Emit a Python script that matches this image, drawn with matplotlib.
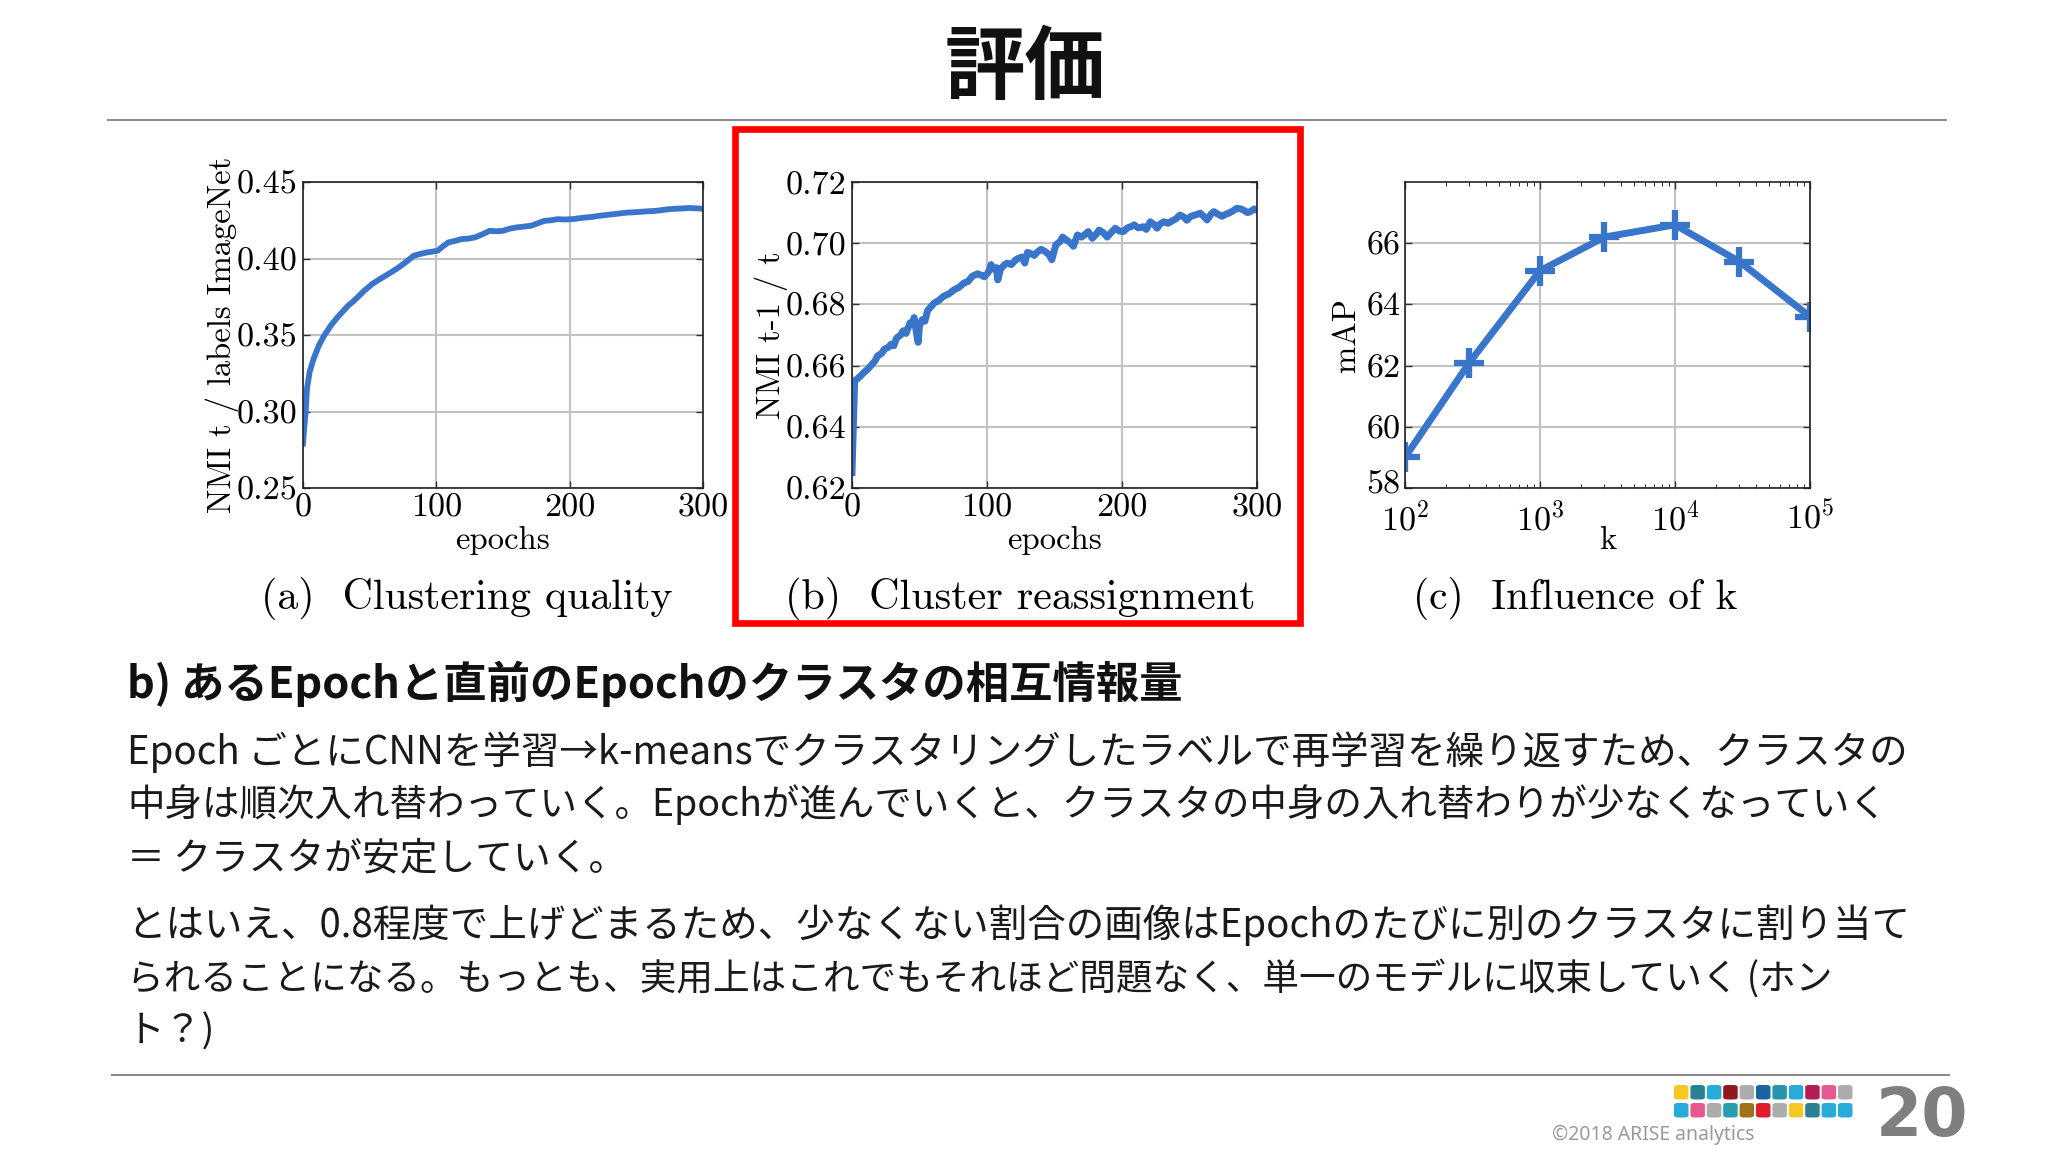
import matplotlib
matplotlib.use("Agg")
import matplotlib.pyplot as plt
from matplotlib.patches import Rectangle, FancyBboxPatch
from matplotlib.lines import Line2D
from matplotlib.ticker import LogLocator, NullFormatter
from matplotlib.transforms import ScaledTranslation

# ---------------- data ----------------
a_epochs = [0, 1, 2, 3, 5, 8, 12, 16, 21, 26, 30, 34, 38, 41, 46, 52, 57, 62, 67, 72,
            78, 83, 88, 93, 97, 101, 105, 109, 114, 119, 124, 129, 135, 140, 145, 150,
            155, 160, 165, 171, 176, 181, 186, 191, 196, 202, 207, 212, 217, 222, 228,
            233, 238, 243, 248, 253, 258, 264, 269, 274, 279, 284, 290, 297, 300]
a_nmi = [0.279, 0.290, 0.300, 0.315, 0.3259, 0.3346, 0.3433, 0.3498, 0.3563, 0.3617,
         0.3655, 0.3693, 0.3722, 0.3747, 0.3790, 0.3834, 0.3862, 0.3888, 0.3915, 0.3943,
         0.3982, 0.4018, 0.4030, 0.4040, 0.4045, 0.4051, 0.4080, 0.4105, 0.4115, 0.4127,
         0.4130, 0.4138, 0.4160, 0.4181, 0.4178, 0.4181, 0.4195, 0.4203, 0.4208, 0.4214,
         0.4230, 0.4246, 0.4250, 0.4257, 0.4255, 0.4257, 0.4263, 0.4268, 0.4272, 0.4279,
         0.4285, 0.4290, 0.4295, 0.4300, 0.4302, 0.4305, 0.4308, 0.4311, 0.4316, 0.4322,
         0.4325, 0.4327, 0.4330, 0.4327, 0.4325]

b_epochs = [0, 1, 2, 4, 6, 9, 12, 14, 17, 19, 22, 24, 27, 29, 31, 33, 36, 38, 40, 43,
            45, 46, 48, 49, 50, 52, 54, 56, 58, 61, 64, 68, 72, 76, 79, 83, 86, 89, 93,
            96, 98, 101, 103, 105, 107, 108, 110, 113, 115, 118, 121, 123, 126, 128, 130,
            133, 135, 137, 140, 143, 146, 148, 151, 154, 156, 159, 162, 164, 167, 170,
            173, 175, 178, 181, 183, 186, 189, 192, 195, 198, 201, 204, 207, 209, 212,
            216, 218, 221, 224, 226, 228, 231, 234, 236, 240, 243, 246, 248, 251, 254,
            258, 260, 263, 266, 268, 271, 274, 277, 279, 282, 285, 288, 290, 293, 295,
            298, 300]
b_nmi = [0.625, 0.640, 0.655, 0.6557, 0.6565, 0.6578, 0.6590, 0.6600, 0.6615, 0.6632,
         0.6640, 0.6654, 0.6660, 0.6670, 0.6665, 0.6690, 0.6700, 0.6714, 0.6705, 0.6740,
         0.6735, 0.6757, 0.6700, 0.6676, 0.6730, 0.6750, 0.6745, 0.6780, 0.6790, 0.6805,
         0.6812, 0.6827, 0.6835, 0.6849, 0.6855, 0.6870, 0.6875, 0.6892, 0.6900, 0.6895,
         0.6890, 0.6905, 0.6930, 0.6915, 0.6920, 0.6880, 0.6915, 0.6930, 0.6935, 0.6930,
         0.6945, 0.6950, 0.6955, 0.6935, 0.6970, 0.6965, 0.6960, 0.6970, 0.6980, 0.6973,
         0.6962, 0.6946, 0.6995, 0.7005, 0.7020, 0.7010, 0.7000, 0.6990, 0.7027, 0.7020,
         0.7030, 0.7038, 0.7016, 0.7030, 0.7043, 0.7035, 0.7020, 0.7035, 0.7049, 0.7040,
         0.7038, 0.7050, 0.7055, 0.7060, 0.7050, 0.7054, 0.7045, 0.7070, 0.7060, 0.7049,
         0.7062, 0.7070, 0.7065, 0.7070, 0.7080, 0.7092, 0.7085, 0.7075, 0.7088, 0.7092,
         0.7098, 0.7090, 0.7076, 0.7095, 0.7103, 0.7095, 0.7088, 0.7095, 0.7098, 0.7105,
         0.7114, 0.7112, 0.7108, 0.7100, 0.7103, 0.7112, 0.7108]

c_k = [100, 300, 1000, 3000, 10000, 30000, 100000]
c_map = [59.0, 62.1, 65.1, 66.2, 66.6, 65.4, 63.6]

a_yticks = [0.25, 0.30, 0.35, 0.40, 0.45]
b_yticks = [0.62, 0.64, 0.66, 0.68, 0.70, 0.72]
c_yticks = [58, 60, 62, 64, 66]
c_xticks = [100, 1000, 10000, 100000]
c_xticklabels = [r"$10^{2}$", r"$10^{3}$", r"$10^{4}$", r"$10^{5}$"]
epoch_ticks = [0, 100, 200, 300]

title_text = "評価"
heading_text = "b) あるEpochと直前のEpochのクラスタの相互情報量"
body_lines = [
    "Epoch ごとにCNNを学習→k-meansでクラスタリングしたラベルで再学習を繰り返すため、クラスタの",
    "中身は順次入れ替わっていく。Epochが進んでいくと、クラスタの中身の入れ替わりが少なくなっていく",
    "＝ クラスタが安定していく。",
    "とはいえ、0.8程度で上げどまるため、少なくない割合の画像はEpochのたびに別のクラスタに割り当て",
    "られることになる。もっとも、実用上はこれでもそれほど問題なく、単一のモデルに収束していく (ホン",
    "ト？)",
]
captions = ["(a)  Clustering quality", "(b)  Cluster reassignment", "(c)  Influence of k"]
logo_row1 = ["#f5c518", "#1f7a8c", "#1ba8d8", "#8b0a14", "#a8a8a8", "#0b5e9c",
             "#1b8fa8", "#1ba8d8", "#b0124a", "#e84e8a", "#a8a8a8"]
logo_row2 = ["#1ba8d8", "#e84e8a", "#a8a8a8", "#1b9aaa", "#9a6a10", "#e01020",
             "#a8a8a8", "#f5c518", "#1f7a8c", "#1ba8d8", "#1ba8d8"]

# ---------------- style ----------------
plt.rcParams['mathtext.fontset'] = 'cm'
plt.rcParams['axes.formatter.use_mathtext'] = True
plt.rcParams['axes.unicode_minus'] = False
SERIF = 'cmr10'
JP = ['Noto Sans CJK JP', 'DejaVu Sans']
LINE = '#3a75cc'
W, H = 2048, 1152
TS = 24.5   # tick label size
LS = 23.5   # axis label size

fig = plt.figure(figsize=(20.48, 11.52), dpi=100, facecolor='white')


def fx(px):
    return px / W


def fy(py):
    return 1 - py / H


def make_ax(l, r, t, b):
    ax = fig.add_axes([fx(l), fy(b), fx(r - l), (b - t) / H])
    ax.grid(True, color='#c2c2c2', lw=1.5)
    ax.set_axisbelow(True)
    for s in ax.spines.values():
        s.set_color('#222222')
        s.set_linewidth(1.2)
    ax.tick_params(direction='in', top=True, right=True, length=5, width=1,
                   labelsize=TS, pad=4, color='#333333')
    return ax


# (a)
axa = make_ax(303, 703, 182, 488)
axa.plot(a_epochs, a_nmi, color=LINE, lw=4.2, solid_joinstyle='round')
axa.set_xlim(0, 300)
axa.set_ylim(0.25, 0.45)
axa.set_xticks(epoch_ticks)
axa.set_yticks(a_yticks)
axa.set_yticklabels([f"{v:.2f}" for v in a_yticks], family=SERIF, fontsize=TS)
axa.set_xticklabels([str(v) for v in epoch_ticks], family=SERIF, fontsize=TS)
axa.set_xlabel("epochs", family=SERIF, fontsize=LS)
axa.set_ylabel("NMI t / labels ImageNet", family=SERIF, fontsize=LS)
axa.xaxis.set_label_coords(0.5, -0.125)
axa.yaxis.set_label_coords(-0.16, 0.5)

# (b)
axb = make_ax(852, 1257, 182, 488)
axb.plot(b_epochs, b_nmi, color=LINE, lw=5, solid_joinstyle='round')
axb.set_xlim(0, 300)
axb.set_ylim(0.62, 0.72)
axb.set_xticks(epoch_ticks)
axb.set_yticks(b_yticks)
axb.set_yticklabels([f"{v:.2f}" for v in b_yticks], family=SERIF, fontsize=TS)
axb.set_xticklabels([str(v) for v in epoch_ticks], family=SERIF, fontsize=TS)
axb.set_xlabel("epochs", family=SERIF, fontsize=LS)
axb.set_ylabel("NMI t-1 / t", family=SERIF, fontsize=LS)
axb.xaxis.set_label_coords(0.5, -0.125)
axb.yaxis.set_label_coords(-0.158, 0.5)

# (c)
axc = make_ax(1405, 1810, 182, 488)
axc.plot(c_k, c_map, color=LINE, lw=5, marker='+', markersize=21, mew=4.5,
         solid_joinstyle='round')
axc.set_xscale('log')
axc.set_xlim(100, 100000)
axc.set_ylim(58, 68)
axc.set_xticks(c_xticks)
axc.set_xticklabels(c_xticklabels, family=SERIF, fontsize=TS)
axc.xaxis.set_minor_locator(LogLocator(base=10, subs=[2, 3, 4, 5, 6, 7, 8, 9], numticks=20))
axc.xaxis.set_minor_formatter(NullFormatter())
axc.set_yticks(c_yticks)
axc.set_yticklabels([str(v) for v in c_yticks], family=SERIF, fontsize=TS)
axc.tick_params(axis='x', which='both', direction='in', top=True, pad=9)
axc.tick_params(axis='x', which='minor', length=3)
axc.tick_params(axis='y', pad=3)
axc.set_xlabel("k", family=SERIF, fontsize=LS)
axc.set_ylabel("mAP", family=SERIF, fontsize=LS)
axc.xaxis.set_label_coords(0.5, -0.125)
axc.yaxis.set_label_coords(-0.108, 0.5)
# lift the lowest y label a little so it clears the 10^2 label
lowest = axc.get_yticklabels()[0]
lowest.set_transform(lowest.get_transform() +
                     ScaledTranslation(0, 6 / 100, fig.dpi_scale_trans))

fig.canvas.draw()
renderer = fig.canvas.get_renderer()


def fit_text(x, y, s, target_w, size0, **kw):
    t = fig.text(fx(x), fy(y), s, fontsize=size0, **kw)
    w = t.get_window_extent(renderer).width
    t.set_fontsize(size0 * target_w / w)
    return t


# captions
fit_text(467, 598, captions[0], 412, 28, family=SERIF, ha='center', va='center')
fit_text(1020, 598, captions[1], 471, 28, family=SERIF, ha='center', va='center')
fit_text(1575, 598, captions[2], 324, 28, family=SERIF, ha='center', va='center')

# red highlight box
fig.patches.append(Rectangle((fx(735), fy(623)), fx(1300 - 735), (623 - 129) / H,
                             transform=fig.transFigure, fill=False,
                             edgecolor='#ff0000', lw=4.8, joinstyle='miter'))

# title & rules
fig.text(fx(1025), fy(69), title_text, family=JP, fontsize=58, fontweight='bold',
         ha='center', va='center', color='#111111')
fig.add_artist(Line2D([fx(108), fx(1946)], [fy(120), fy(120)], color='#8c8c8c', lw=1.5))
fig.add_artist(Line2D([fx(112), fx(1949)], [fy(1075), fy(1075)], color='#8c8c8c', lw=1.5))

# heading and body
fit_text(127, 684, heading_text, 1182 - 127, 28, family=JP, fontweight='bold',
         ha='left', va='center', color='#111111')
body_y = [752, 805, 859, 925, 979, 1032]
body_w = [1910 - 127, 1887 - 127, None, 1910 - 127, 1835 - 127, None]
sizes = []
for i in range(6):
    if body_w[i] is not None:
        t = fit_text(127, body_y[i], body_lines[i], body_w[i], 26, family=JP,
                     ha='left', va='center', color='#1a1a1a')
        sizes.append(t.get_fontsize())
base_size = sum(sizes) / len(sizes)
for i in range(6):
    if body_w[i] is None:
        fig.text(fx(127), fy(body_y[i]), body_lines[i], family=JP, fontsize=base_size,
                 ha='left', va='center', color='#1a1a1a')

# footer logo
sq = 14.5
gap = 16.4
for row, (colors, ytop) in enumerate([(logo_row1, 1085), (logo_row2, 1103)]):
    for j, c in enumerate(colors):
        x0 = 1674 + j * gap
        fig.patches.append(FancyBboxPatch((fx(x0), fy(ytop + sq)), fx(sq), sq / H,
                                          boxstyle="round,pad=0,rounding_size=0.002",
                                          transform=fig.transFigure, facecolor=c,
                                          edgecolor='none', alpha=0.95))
fig.text(fx(1922), fy(1117), "20", family='DejaVu Sans', fontsize=48,
         fontweight='bold', ha='center', va='center', color='#7f7f7f')
fig.text(fx(1552), fy(1135), "©2018 ARISE analytics", family='Noto Sans', fontsize=14,
         ha='left', va='center', color='#9a9a9a')

fig.savefig("out.png", dpi=100, facecolor='white')
